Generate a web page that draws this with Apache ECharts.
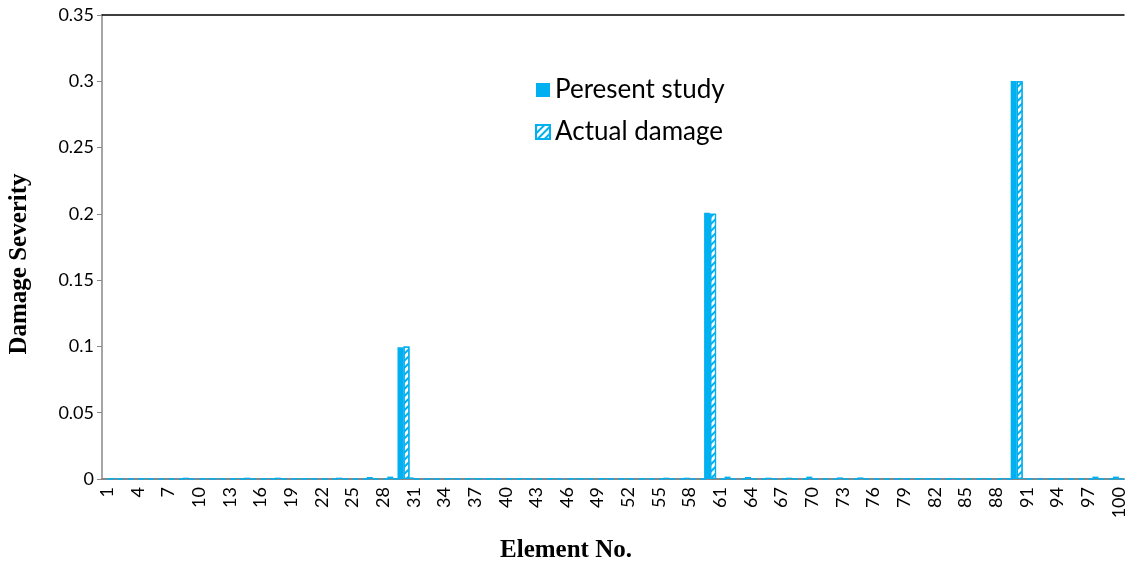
<!DOCTYPE html>
<html>
<head>
<meta charset="utf-8">
<script src="https://cdn.jsdelivr.net/npm/echarts@6/dist/echarts.min.js"></script>
<style>
html,body{margin:0;padding:0;background:#fff;}
#chart{width:1126px;height:564px;}
</style>
</head>
<body>
<div id="chart"></div>
<script>
const categories = [1,2,3,4,5,6,7,8,9,10,11,12,13,14,15,16,17,18,19,20,
  21,22,23,24,25,26,27,28,29,30,31,32,33,34,35,36,37,38,39,40,
  41,42,43,44,45,46,47,48,49,50,51,52,53,54,55,56,57,58,59,60,
  61,62,63,64,65,66,67,68,69,70,71,72,73,74,75,76,77,78,79,80,
  81,82,83,84,85,86,87,88,89,90,91,92,93,94,95,96,97,98,99,100];

const presentStudy = [
  0, 0.0005, 0, 0, 0.0005, 0, 0, 0, 0.001, 0,
  0.0005, 0.0005, 0, 0.0005, 0.001, 0, 0.0005, 0.001, 0, 0.0005,
  0.0005, 0, 0, 0.001, 0, 0, 0.0015, 0, 0.0018, 0.0993,
  0.0012, 0, 0.0005, 0, 0.0005, 0, 0.0005, 0.0005, 0.0005, 0,
  0.0005, 0.0005, 0, 0, 0.0005, 0, 0.0005, 0.0005, 0, 0.0005,
  0, 0.0005, 0, 0.0005, 0, 0.001, 0, 0.001, 0, 0.2009,
  0, 0.0018, 0, 0.0015, 0, 0.001, 0, 0.001, 0, 0.0018,
  0, 0, 0.0012, 0, 0.0012, 0, 0, 0, 0.0005, 0,
  0.0005, 0.0005, 0, 0.0005, 0, 0, 0.0005, 0, 0.0005, 0.3003,
  0.0005, 0, 0, 0.0005, 0, 0, 0, 0.0018, 0, 0.0018
];

const actualDamage = [
  0, 0, 0, 0, 0, 0, 0, 0, 0, 0,
  0, 0, 0, 0, 0, 0, 0, 0, 0, 0,
  0, 0, 0, 0, 0, 0, 0, 0, 0, 0.1,
  0, 0, 0, 0, 0, 0, 0, 0, 0, 0,
  0, 0, 0, 0, 0, 0, 0, 0, 0, 0,
  0, 0, 0, 0, 0, 0, 0, 0, 0, 0.2,
  0, 0, 0, 0, 0, 0, 0, 0, 0, 0,
  0, 0, 0, 0, 0, 0, 0, 0, 0, 0,
  0, 0, 0, 0, 0, 0, 0, 0, 0, 0.3,
  0, 0, 0, 0, 0, 0, 0, 0, 0, 0
];

const BLUE = '#00B0F0';
const chart = echarts.init(document.getElementById('chart'), null, {renderer: 'canvas'});
chart.setOption({
  animation: false,
  backgroundColor: '#ffffff',
  grid: {left: 102, right: 2, top: 15, bottom: 85, containLabel: false, outerBoundsMode: 'none'},
  legend: {
    orient: 'vertical',
    left: 530,
    top: 72,
    itemGap: 16,
    itemWidth: 14,
    itemHeight: 14,
    icon: 'rect',
    textStyle: {fontFamily: 'Lato, "Open Sans", sans-serif', fontSize: 26, color: '#000'},
    data: ['Peresent study', 'Actual damage']
  },
  xAxis: [{
    type: 'category',
    data: categories,
    name: 'Element No.',
    nameLocation: 'middle',
    nameGap: 59,
    nameTextStyle: {fontFamily: '"Liberation Serif", "Times New Roman", serif', fontWeight: 'bold', fontSize: 25, color: '#000', padding: [0, 94, 0, 0]},
    axisLine: {lineStyle: {color: '#888888', width: 2}},
    axisTick: {show: false},
    axisLabel: {interval: 2, rotate: 90, fontFamily: 'Lato, "Open Sans", sans-serif', fontSize: 18, color: '#000', margin: 8}
  }, {
    type: 'category',
    data: categories,
    position: 'top',
    axisLine: {lineStyle: {color: '#000000', width: 1.5}},
    axisTick: {show: false},
    axisLabel: {show: false}
  }],
  yAxis: {
    type: 'value',
    min: 0,
    max: 0.35,
    interval: 0.05,
    name: 'Damage Severity',
    nameLocation: 'middle',
    nameGap: 70,
    nameTextStyle: {fontFamily: '"Liberation Serif", "Times New Roman", serif', fontWeight: 'bold', fontSize: 25, color: '#000', padding: [0, 34, 0, 0]},
    axisLine: {show: true, lineStyle: {color: '#888888', width: 1.5}},
    axisTick: {show: true, length: 5, lineStyle: {color: '#888888'}},
    splitLine: {show: false},
    axisLabel: {fontFamily: 'Lato, "Open Sans", sans-serif', fontSize: 18, color: '#000', margin: 8}
  },
  series: [{
    name: 'Peresent study',
    type: 'bar',
    data: presentStudy,
    barWidth: 6,
    barGap: '0%',
    itemStyle: {color: BLUE}
  }, {
    name: 'Actual damage',
    type: 'bar',
    data: actualDamage,
    barWidth: 6,
    itemStyle: {
      color: '#ffffff',
      borderColor: BLUE,
      borderWidth: 1.2,
      decal: {
        symbol: 'rect',
        color: BLUE,
        dashArrayX: [1, 0],
        dashArrayY: [2, 3],
        rotation: -Math.PI / 4,
        symbolSize: 1
      }
    }
  }]
});
</script>
</body>
</html>
